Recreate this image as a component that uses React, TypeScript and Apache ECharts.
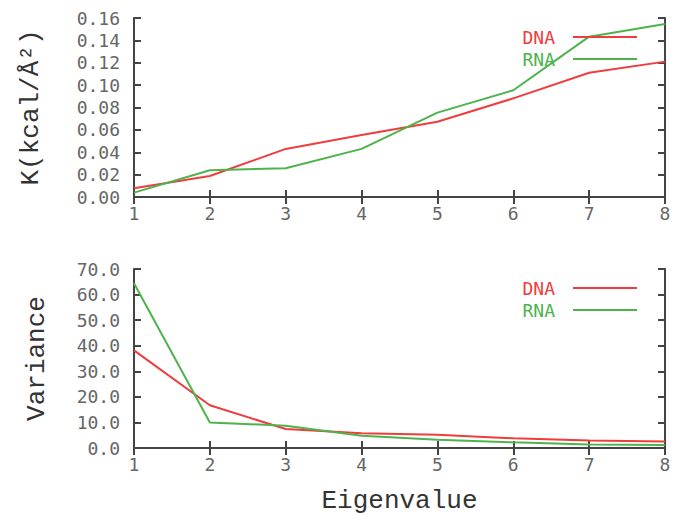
import React, { useEffect, useRef } from "react";
import * as echarts from "echarts";

const eigen = [1, 2, 3, 4, 5, 6, 7, 8];
const kDNA = [0.0078, 0.0188, 0.043, 0.0554, 0.0673, 0.0882, 0.111, 0.121];
const kRNA = [0.0039, 0.0239, 0.0257, 0.043, 0.0754, 0.0954, 0.1433, 0.1547];
const varDNA = [38.2, 16.7, 7.4, 5.8, 5.2, 3.8, 2.9, 2.5];
const varRNA = [64.4, 10.0, 8.7, 4.8, 3.2, 2.2, 1.4, 1.2];

const RED = "#f03c3c";
const GREEN = "#4db34d";
const AX = "#444";
const TICKFONT = "DejaVu Sans Mono";
const NAMEFONT = "Liberation Mono";

const pair = (ys: number[]) => eigen.map((x, i) => [x, ys[i]]);

export default function App() {
  const ref = useRef<HTMLDivElement>(null);
  useEffect(() => {
    if (!ref.current) return;
    const chart = echarts.init(ref.current, undefined, { renderer: "svg" });
    const axisLine = { show: true, lineStyle: { color: AX, width: 2 } };
    const tick = { show: true, inside: true, length: 7, lineStyle: { color: AX, width: 2 } };
    const lbl = { color: "#666", fontFamily: TICKFONT, fontSize: 18 };
    const xMain = (gi: number, withName: boolean) => ({
      type: "value",
      gridIndex: gi,
      min: 1,
      max: 8,
      interval: 1,
      position: "bottom",
      axisLine,
      axisTick: tick,
      splitLine: { show: false },
      axisLabel: { ...lbl, margin: 7 },
      name: withName ? "Eigenvalue" : "",
      nameLocation: "middle",
      nameGap: 40,
      nameTextStyle: { fontFamily: NAMEFONT, fontSize: 26, color: "#333" },
    });
    const xTop = (gi: number) => ({
      type: "value",
      gridIndex: gi,
      min: 1,
      max: 8,
      interval: 1,
      position: "top",
      axisLine,
      axisTick: tick,
      splitLine: { show: false },
      axisLabel: { show: false },
    });
    const yMain = (gi: number, min: number, max: number, interval: number, dec: number, name: string, gap: number) => ({
      type: "value",
      gridIndex: gi,
      min,
      max,
      interval,
      position: "left",
      axisLine,
      axisTick: tick,
      splitLine: { show: false },
      axisLabel: { ...lbl, margin: 14, formatter: (v: number) => v.toFixed(dec) },
      name,
      nameLocation: "middle",
      nameGap: gap,
      nameTextStyle: { fontFamily: NAMEFONT, fontSize: 26, color: "#333" },
    });
    const yRight = (gi: number, min: number, max: number, interval: number) => ({
      type: "value",
      gridIndex: gi,
      min,
      max,
      interval,
      position: "right",
      axisLine,
      axisTick: tick,
      splitLine: { show: false },
      axisLabel: { show: false },
    });
    const legend = (top: number) => ({
      top,
      right: 36,
      orient: "vertical",
      align: "right",
      itemWidth: 64,
      itemHeight: 14,
      itemGap: 4,
      icon: "path://M0,6 L64,6 L64,8 L0,8 Z",
      textStyle: { fontFamily: TICKFONT, fontSize: 18, padding: [0, 13, 0, 0] },
      data: [
        { name: "DNA", textStyle: { color: RED } },
        { name: "RNA", textStyle: { color: GREEN } },
      ],
      selectedMode: false,
    });
    const line = (name: string, color: string, xi: number, yi: number, ys: number[]) => ({
      type: "line",
      name,
      xAxisIndex: xi,
      yAxisIndex: yi,
      data: pair(ys),
      showSymbol: false,
      symbol: "none",
      lineStyle: { color, width: 2 },
      itemStyle: { color },
    });
    chart.setOption({
      animation: false,
      backgroundColor: "#fff",
      grid: [
        { left: 134, right: 13, top: 18, height: 179 },
        { left: 134, right: 13, top: 269, height: 180 },
      ],
      legend: [legend(23), legend(274)],
      xAxis: [xMain(0, false), xTop(0), xMain(1, true), xTop(1)],
      yAxis: [
        yMain(0, 0, 0.16, 0.02, 2, "K(kcal/Å²)", 90),
        yRight(0, 0, 0.16, 0.02),
        yMain(1, 0, 70, 10, 1, "Variance", 84),
        yRight(1, 0, 70, 10),
      ],
      series: [
        line("DNA", RED, 0, 0, kDNA),
        line("RNA", GREEN, 0, 0, kRNA),
        line("DNA", RED, 2, 2, varDNA),
        line("RNA", GREEN, 2, 2, varRNA),
      ],
    });
    return () => chart.dispose();
  }, []);
  return <div ref={ref} style={{ width: 678, height: 515, position: "absolute", left: 0, top: 0 }} />;
}
